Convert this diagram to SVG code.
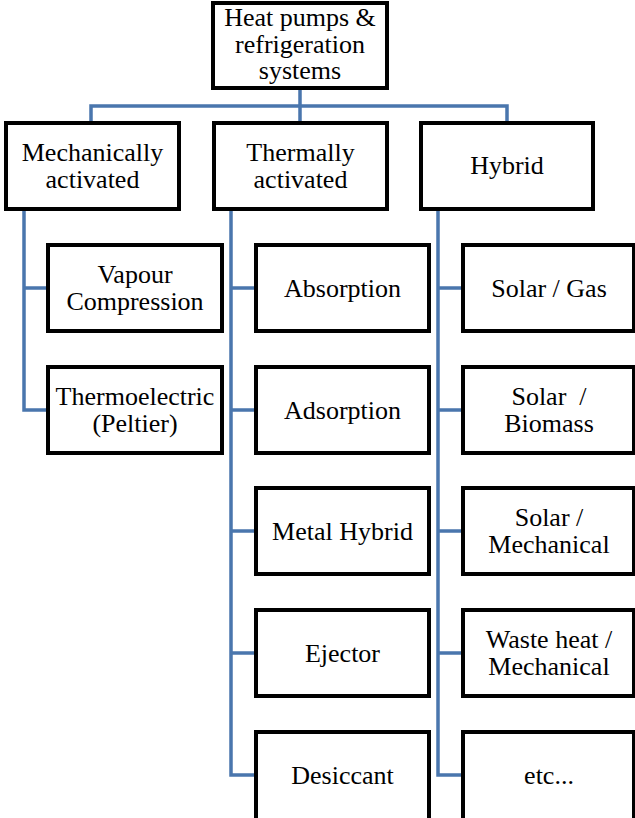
<svg xmlns="http://www.w3.org/2000/svg" width="635" height="818" viewBox="0 0 635 818">
<style>
.box{fill:#fff;stroke:#000;stroke-width:4}
.t{font-family:'Liberation Serif','Times New Roman',Times,'DejaVu Serif',serif;font-size:26px;fill:#000;text-anchor:middle}
.c{fill:none;stroke:#4a76ad;stroke-width:3.5}
</style>
<rect width="635" height="818" fill="#fff"/>
<g id="connectors">
<path class="c" d="M300 89V106M91 122V106H507V122M300 106V122"/>
<path class="c" d="M24 209V410H48M24 288H48"/>
<path class="c" d="M231 209V775H256M231 288H256M231 410H256M231 531H256M231 653H256"/>
<path class="c" d="M438 209V775H463M438 288H463M438 410H463M438 531H463M438 653H463"/>
</g>
<g id="root"><rect class="box" x="213" y="3" width="174" height="85"/>
<text class="t" x="300" y="26">Heat pumps &amp;</text><text class="t" x="300" y="53">refrigeration</text><text class="t" x="300" y="79">systems</text></g>
<g id="mech"><rect class="box" x="6" y="123" width="173" height="86"/><text class="t" x="92.5" y="161">Mechanically</text><text class="t" x="92.5" y="188">activated</text></g>
<g id="therm"><rect class="box" x="214" y="123" width="173" height="86"/><text class="t" x="300.5" y="161">Thermally</text><text class="t" x="300.5" y="188">activated</text></g>
<g id="hybrid"><rect class="box" x="421" y="123" width="172" height="86"/><text class="t" x="507" y="174">Hybrid</text></g>
<g id="vapour"><rect class="box" x="48" y="245" width="174" height="86"/><text class="t" x="135" y="283">Vapour</text><text class="t" x="135" y="310">Compression</text></g>
<g id="thermoelectric"><rect class="box" x="48" y="367" width="174" height="86"/><text class="t" x="135" y="405">Thermoelectric</text><text class="t" x="135" y="432">(Peltier)</text></g>
<g id="absorption"><rect class="box" x="256" y="245" width="173" height="86"/><text class="t" x="342.5" y="297">Absorption</text></g>
<g id="adsorption"><rect class="box" x="256" y="367" width="173" height="86"/><text class="t" x="342.5" y="419">Adsorption</text></g>
<g id="metalhybrid"><rect class="box" x="256" y="488" width="173" height="86"/><text class="t" x="342.5" y="540">Metal Hybrid</text></g>
<g id="ejector"><rect class="box" x="256" y="610" width="173" height="86"/><text class="t" x="342.5" y="662">Ejector</text></g>
<g id="desiccant"><rect class="box" x="256" y="732" width="173" height="90"/><text class="t" x="342.5" y="784">Desiccant</text></g>
<g id="solargas"><rect class="box" x="463" y="245" width="171" height="86"/><text class="t" x="549" y="297">Solar / Gas</text></g>
<g id="solarbiomass"><rect class="box" x="463" y="367" width="171" height="86"/><text class="t" x="549" y="405" xml:space="preserve">Solar  /</text><text class="t" x="549" y="432">Biomass</text></g>
<g id="solarmech"><rect class="box" x="463" y="488" width="171" height="86"/><text class="t" x="549" y="526">Solar /</text><text class="t" x="549" y="553">Mechanical</text></g>
<g id="wasteheat"><rect class="box" x="463" y="610" width="171" height="86"/><text class="t" x="549" y="648">Waste heat /</text><text class="t" x="549" y="675">Mechanical</text></g>
<g id="etc"><rect class="box" x="463" y="732" width="171" height="90"/><text class="t" x="549" y="784">etc...</text></g>
</svg>
